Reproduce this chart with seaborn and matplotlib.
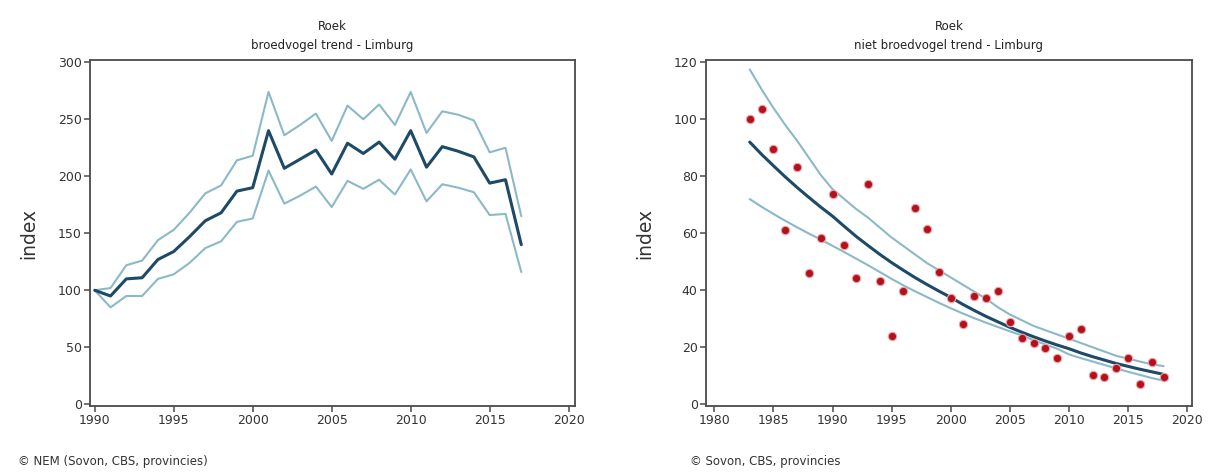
import numpy as np
import pandas as pd
import matplotlib
matplotlib.use("Agg")
import matplotlib.pyplot as plt
import seaborn as sns

# ---- left panel: broedvogel trend ----
years_b = list(range(1990, 2018))
index_b = [100, 95, 110, 111, 127, 134, 147, 161, 168, 187, 190, 240, 207, 215,
           223, 202, 229, 220, 230, 215, 240, 208, 226, 222, 217, 194, 197, 140]
upper_b = [100, 102, 122, 126, 144, 153, 168, 185, 192, 214, 218, 274, 236, 245,
           255, 231, 262, 250, 263, 245, 274, 238, 257, 254, 249, 221, 225, 165]
lower_b = [100, 85, 95, 95, 110, 114, 124, 137, 143, 160, 163, 205, 176, 183,
           191, 173, 196, 189, 197, 184, 206, 178, 193, 190, 186, 166, 167, 116]

# ---- right panel: niet broedvogel trend ----
years_n = list(range(1983, 2019))
points_n = [100, 103.5, 89.7, 61.3, 83.2, 46, 58.5, 73.7, 55.8, 44.3, 77.3, 43.4,
            23.9, 39.7, 68.8, 61.6, 46.3, 37.3, 28.3, 38, 37.3, 39.9, 29, 23.3,
            21.6, 19.8, 16.3, 23.9, 26.5, 10.2, 9.7, 12.6, 16.3, 7.0, 14.9, 9.6]
trend_n = [92.0, 87.7, 83.7, 79.8, 76.1, 72.6, 69.2, 66.0, 62.4, 58.9, 55.7, 52.6,
           49.7, 47.0, 44.4, 42.0, 39.7, 37.5, 35.1, 32.9, 30.8, 28.9, 27.0, 25.3,
           23.7, 22.2, 20.8, 19.5, 18.0, 16.7, 15.5, 14.3, 13.3, 12.3, 11.4, 10.5]
upper_n = [117.5, 110.5, 104, 98, 92.5, 86.5, 80.5, 75.5, 72, 68.5, 65.5, 62,
           58.5, 55.5, 52.5, 49.5, 47, 44.5, 42, 39.5, 37, 34, 31.5, 29.5,
           27.5, 26, 24.5, 23, 21.5, 20, 18.5, 17, 16, 15, 14, 13.4]
lower_n = [72, 69.3, 66.8, 64.4, 62.1, 59.9, 57.8, 55.6, 53.4, 51.1, 48.8, 46.4,
           44.0, 41.7, 39.6, 37.6, 35.6, 33.7, 31.9, 30.2, 28.6, 27.1, 25.6, 24.2,
           22.5, 21, 19.5, 17.5, 16.2, 15, 13.8, 12.6, 11.4, 10.3, 9.2, 8.3]

titles = ["Roek\nbroedvogel trend - Limburg", "Roek\nniet broedvogel trend - Limburg"]
footers = ["\u00a9 NEM (Sovon, CBS, provincies)", "\u00a9 Sovon, CBS, provincies"]

sns.set_theme(style="white")
plt.rcParams['font.family'] = ['DejaVu Sans']

DARK = "#1d4a68"
LIGHT = "#8bb9c7"
RED = "#b3121c"
SPINE = "#4a4a4a"

fig = plt.figure(figsize=(12.19, 4.73), dpi=100)
axL = fig.add_axes([90/1219, 67/473, 485/1219, 346/473])
axR = fig.add_axes([706/1219, 67/473, 486/1219, 346/473])

dfb = pd.DataFrame({"year": years_b, "index": index_b, "upper": upper_b, "lower": lower_b})
sns.lineplot(data=dfb, x="year", y="upper", ax=axL, color=LIGHT, lw=1.5)
sns.lineplot(data=dfb, x="year", y="lower", ax=axL, color=LIGHT, lw=1.5)
sns.lineplot(data=dfb, x="year", y="index", ax=axL, color=DARK, lw=2.2)
axL.set_xlim(1989.7, 2020.4)
axL.set_ylim(-1.5, 302)
axL.set_xticks(range(1990, 2021, 5))
axL.set_yticks(range(0, 301, 50))

dfn = pd.DataFrame({"year": years_n, "points": points_n, "trend": trend_n,
                    "upper": upper_n, "lower": lower_n})
sns.lineplot(data=dfn, x="year", y="upper", ax=axR, color=LIGHT, lw=1.5)
sns.lineplot(data=dfn, x="year", y="lower", ax=axR, color=LIGHT, lw=1.5)
sns.lineplot(data=dfn, x="year", y="trend", ax=axR, color=DARK, lw=2.2)
sns.scatterplot(data=dfn, x="year", y="points", ax=axR, color=RED, s=36,
                edgecolor="#eaa6aa", linewidth=0.8, zorder=5)
axR.set_xlim(1979.3, 2020.4)
axR.set_ylim(-0.6, 120.8)
axR.set_xticks(range(1980, 2021, 5))
axR.set_yticks(range(0, 121, 20))

for ax, title, footer in zip([axL, axR], titles, footers):
    ax.set_title(title, fontsize=8.5, color="#222222", pad=8, linespacing=1.6)
    ax.set_xlabel("")
    ax.set_ylabel("index", fontsize=13.5, color="#333333")
    ax.yaxis.set_label_coords(-0.106, 0.5)
    for sp in ax.spines.values():
        sp.set_visible(True)
        sp.set_color(SPINE)
        sp.set_linewidth(1.3)
    ax.tick_params(axis="both", direction="out", length=4, width=1.1, color=SPINE,
                   labelsize=9, labelcolor="#333333", pad=2,
                   bottom=True, left=True, top=False, right=False)
    ax.grid(False)
    ax.set_facecolor("white")

fig.text(18/1219, 1 - 461/473, footers[0], fontsize=8.5, color="#333333", va="center")
fig.text(690/1219, 1 - 461/473, footers[1], fontsize=8.5, color="#333333", va="center")

fig.savefig("out.png", dpi=100, facecolor="white")
